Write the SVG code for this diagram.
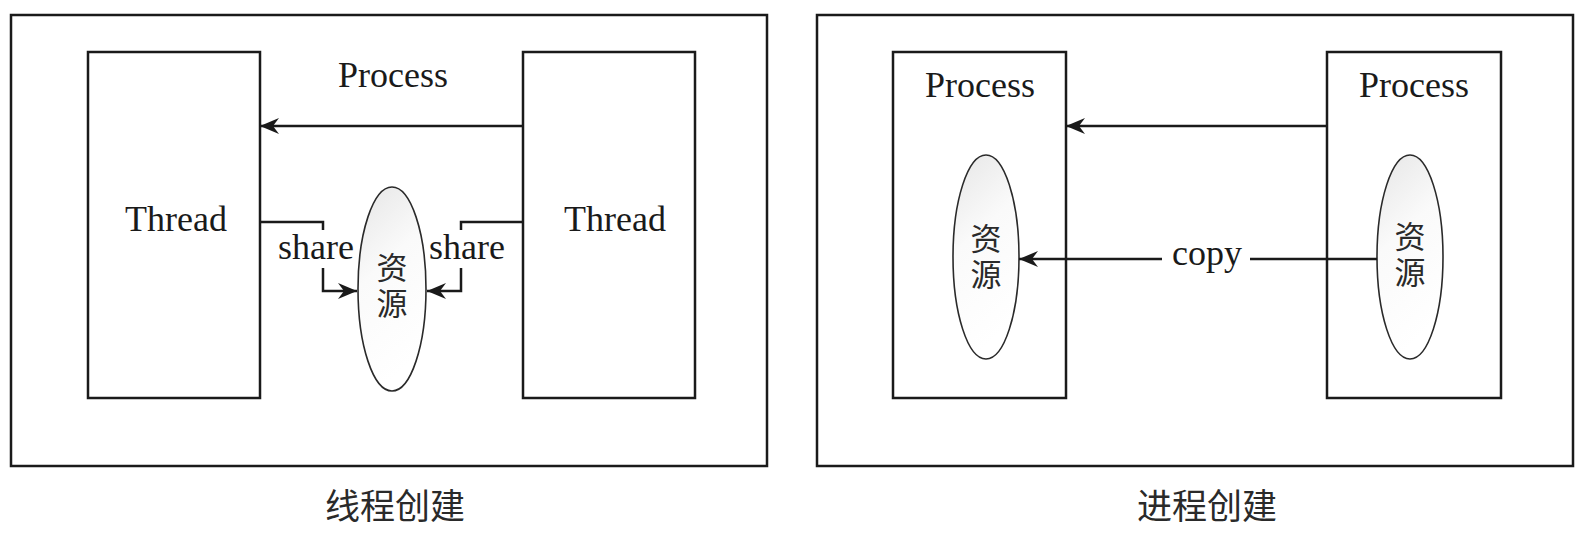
<svg xmlns="http://www.w3.org/2000/svg" width="1585" height="540" viewBox="0 0 1585 540">
<style>
.frame{fill:none;stroke:#1a1a1a;stroke-width:2.5}
.box{fill:#fff;stroke:#1a1a1a;stroke-width:2.5}
.ell{fill:url(#eg);stroke:#2a2a2a;stroke-width:1.6}
.ln{fill:none;stroke:#1a1a1a;stroke-width:2.5}
.en{font-family:"Liberation Serif","Noto Serif",serif;font-size:36px;fill:#1a1a1a;text-anchor:middle}
.cn{font-family:"Noto Sans CJK SC",sans-serif;font-size:31px;fill:#2a2a2a;text-anchor:middle;writing-mode:vertical-rl;letter-spacing:5px}
.cap{font-family:"Noto Sans CJK SC",sans-serif;font-size:35px;fill:#2a2a2a;text-anchor:middle}
</style>
<defs>
<linearGradient id="eg" x1="0" y1="0" x2="0.3" y2="1">
<stop offset="0" stop-color="#e6e6e6"/>
<stop offset="0.45" stop-color="#fafafa"/>
<stop offset="1" stop-color="#ffffff"/>
</linearGradient>
<marker id="ah" markerUnits="userSpaceOnUse" markerWidth="22" markerHeight="18" refX="19" refY="8" orient="auto">
<path d="M0,0 L19,8 L0,16 L6,8 z" fill="#1a1a1a"/>
</marker>
</defs>

<g id="thread-panel">
<rect class="frame" x="11" y="15" width="756" height="451"/>
<text class="en" x="393" y="87">Process</text>
</g>
<g id="thread-left">
<rect class="box" x="88" y="52" width="172" height="346"/>
<text class="en" x="176" y="231">Thread</text>
</g>
<g id="thread-right">
<rect class="box" x="523" y="52" width="172" height="346"/>
<text class="en" x="615" y="231">Thread</text>
</g>
<g id="shared-resource">
<ellipse class="ell" cx="392" cy="289" rx="34" ry="102"/>
<text class="cn" x="392" y="288">资源</text>
</g>

<g id="process-panel">
<rect class="frame" x="817" y="15" width="756" height="451"/>
</g>
<g id="process-left">
<rect class="box" x="893" y="52" width="173" height="346"/>
<text class="en" x="980" y="97">Process</text>
<ellipse class="ell" cx="986" cy="257" rx="33" ry="102"/>
<text class="cn" x="986" y="259">资源</text>
</g>
<g id="process-right">
<rect class="box" x="1327" y="52" width="174" height="346"/>
<text class="en" x="1414" y="97">Process</text>
<ellipse class="ell" cx="1410" cy="257" rx="33" ry="102"/>
<text class="cn" x="1410" y="257">资源</text>
</g>

<g id="connectors">
<line class="ln" x1="523" y1="126" x2="260" y2="126" marker-end="url(#ah)"/>
<polyline class="ln" points="260,222 323,222 323,230"/>
<polyline class="ln" points="323,268 323,291 357,291" marker-end="url(#ah)"/>
<polyline class="ln" points="523,222 461,222 461,230"/>
<polyline class="ln" points="461,268 461,291 427,291" marker-end="url(#ah)"/>
<text class="en" x="316" y="259">share</text>
<text class="en" x="467" y="259">share</text>
<line class="ln" x1="1327" y1="126" x2="1066" y2="126" marker-end="url(#ah)"/>
<line class="ln" x1="1377" y1="259" x2="1250" y2="259"/>
<line class="ln" x1="1162" y1="259" x2="1019" y2="259" marker-end="url(#ah)"/>
<text class="en" x="1207" y="265">copy</text>
</g>

<g id="captions">
<text class="cap" x="395" y="519">线程创建</text>
<text class="cap" x="1207" y="519">进程创建</text>
</g>
</svg>
